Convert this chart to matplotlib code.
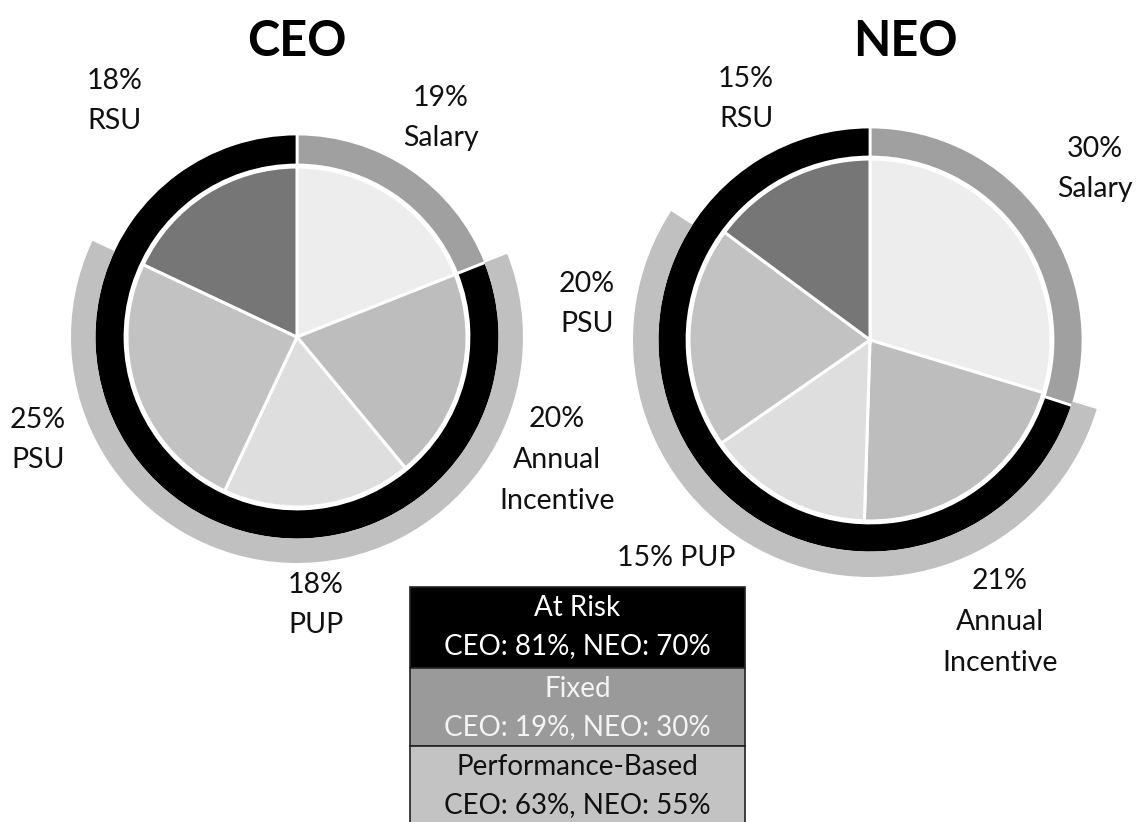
import matplotlib
matplotlib.use("Agg")
import matplotlib.pyplot as plt
from matplotlib.patches import Rectangle

# ---------------- data ----------------
components = ["Salary", "Annual Incentive", "PUP", "PSU", "RSU"]
ceo_values = [19, 20, 18, 25, 18]
neo_values = [30, 21, 15, 20, 15]

ceo_fixed, ceo_at_risk = 19, 81
neo_fixed, neo_at_risk = 30, 70
ceo_perf, neo_perf = 63, 55

ceo_labels = ["19%\nSalary", "20%\nAnnual\nIncentive", "18%\nPUP", "25%\nPSU", "18%\nRSU"]
neo_labels = ["30%\nSalary", "21%\nAnnual\nIncentive", "15% PUP", "20%\nPSU", "15%\nRSU"]

legend_titles = ["At Risk", "Fixed", "Performance-Based"]
legend_ceo = [ceo_at_risk, ceo_fixed, ceo_perf]
legend_neo = [neo_at_risk, neo_fixed, neo_perf]

# ---------------- style ----------------
W, H = 1141, 822
FONT = ["Lato", "DejaVu Sans"]
slice_colors = ["#ededed", "#bdbdbd", "#dedede", "#c2c2c2", "#767676"]
fixed_color = "#a0a0a0"
risk_color = "#000000"
perf_color = "#c0c0c0"
legend_bg = [risk_color, "#9a9a9a", "#c3c3c3"]
legend_fg = ["white", "#f4f4f4", "#111111"]

fig = plt.figure(figsize=(W / 100, H / 100), dpi=100)
ax = fig.add_axes([0, 0, 1, 1])
ax.set_xlim(0, W)
ax.set_ylim(0, H)
ax.set_aspect("equal")
ax.axis("off")


def Y(py):
    return H - py


def draw_chart(cx, cy, r_pie, r_ring_in, r_ring_out, r_perf, values, fixed, at_risk, perf):
    c = (cx, Y(cy))
    # fixed / at risk ring
    ax.pie([fixed, at_risk], center=c, radius=r_ring_out, startangle=90,
           counterclock=False, colors=[fixed_color, risk_color],
           wedgeprops=dict(width=r_ring_out - r_ring_in, edgecolor="white", linewidth=2))
    # performance-based outer arc (fixed part and RSU part transparent),
    # drawn over the white outer edge of the ring so the two touch
    rest = sum(values) - fixed - perf
    ax.pie([fixed, perf, max(rest, 0)], center=c, radius=r_perf, startangle=90,
           counterclock=False, colors=["none", perf_color, "none"],
           wedgeprops=dict(width=r_perf - r_ring_out + 1.5, edgecolor="none", linewidth=0))
    # inner pie
    ax.pie(values, center=c, radius=r_pie, startangle=90, counterclock=False,
           colors=slice_colors, wedgeprops=dict(edgecolor="white", linewidth=2.2))


draw_chart(297, 337, 170, 172, 203, 226, ceo_values, ceo_fixed, ceo_at_risk, ceo_perf)
draw_chart(870, 340, 181, 183, 213, 237, neo_values, neo_fixed, neo_at_risk, neo_perf)

ax.set_xlim(0, W)
ax.set_ylim(0, H)

# titles
ax.text(297, Y(42), "CEO", ha="center", va="center", fontsize=35, fontweight="bold", family=FONT)
ax.text(905, Y(42), "NEO", ha="center", va="center", fontsize=35, fontweight="bold", family=FONT)

# slice labels
ceo_pos = [(441, 118), (557, 460), (316, 605), (38, 440), (115, 101)]
neo_pos = [(1095, 169), (1000, 622), (676, 558), (587, 304), (746, 99)]
for lab, (x, y) in zip(ceo_labels, ceo_pos):
    ax.text(x, Y(y), lab, ha="center", va="center", fontsize=20.5, family=FONT,
            linespacing=1.7, color="#111111")
for lab, (x, y) in zip(neo_labels, neo_pos):
    ax.text(x, Y(y), lab, ha="center", va="center", fontsize=20.5, family=FONT,
            linespacing=1.7, color="#111111")

# legend table
lx0, lx1 = 410, 745
row_tops = [587, 668, 746]
row_h = [81, 78, 80]
for i, title in enumerate(legend_titles):
    top = row_tops[i]
    h = row_h[i]
    ax.add_patch(Rectangle((lx0, Y(top + h)), lx1 - lx0, h, facecolor=legend_bg[i],
                           edgecolor="#222222", linewidth=1.2))
    ax.text((lx0 + lx1) / 2, Y(top + 21), title, ha="center", va="center",
            fontsize=20, family=FONT, color=legend_fg[i])
    ax.text((lx0 + lx1) / 2, Y(top + 59),
            f"CEO: {legend_ceo[i]}%, NEO: {legend_neo[i]}%", ha="center", va="center",
            fontsize=20, family=FONT, color=legend_fg[i])

fig.savefig("out.png", dpi=100, facecolor="white")
